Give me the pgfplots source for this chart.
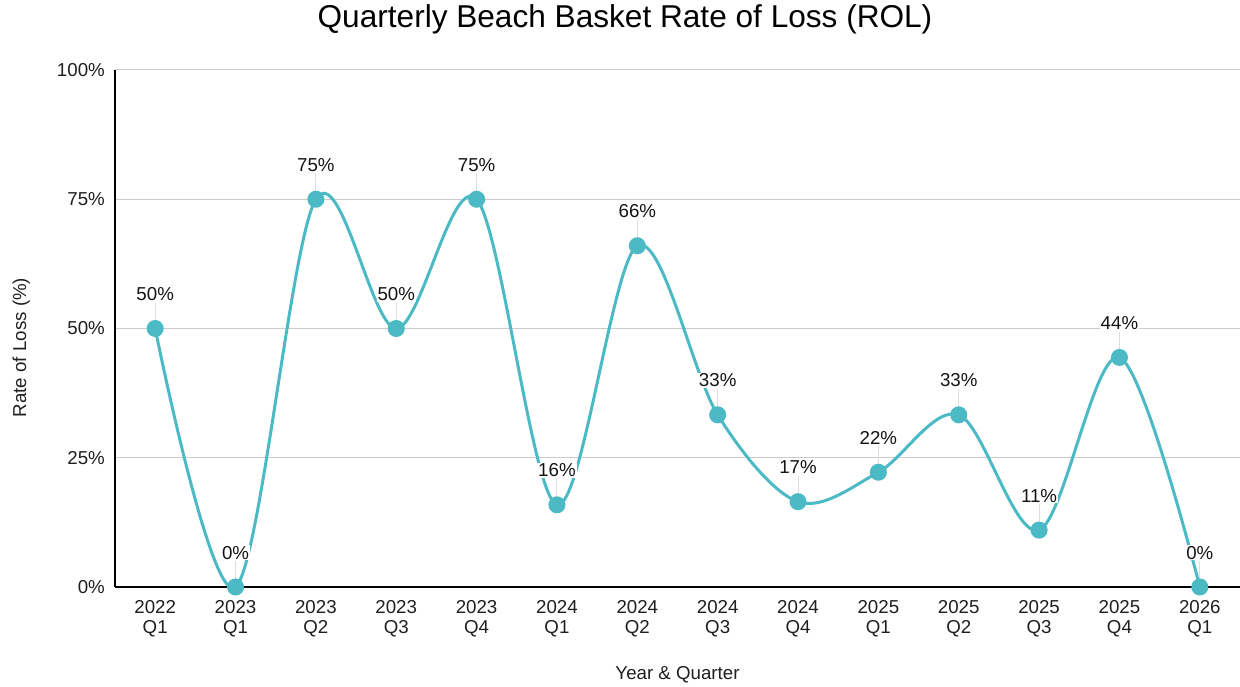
\documentclass[border=0pt]{standalone}
\usepackage{fontspec}
\setmainfont{Liberation Sans}
\usepackage{pgfplots}
\usepackage{pgfplotstable}
\pgfplotsset{compat=1.18}
\definecolor{rolteal}{HTML}{4BBAC4}
\definecolor{gridgray}{HTML}{CCCCCC}
\definecolor{leadgray}{HTML}{DDDDDD}
\pgfplotstableread{
x y lab
0 50 50
1 0 0
2 75 75
3 50 50
4 75 75
5 15.9 16
6 66 66
7 33.3 33
8 16.5 17
9 22.2 22
10 33.3 33
11 11.0 11
12 44.4 44
13 0 0
}\roldata
\begin{document}
\begin{tikzpicture}[x=1pt,y=1pt]
\useasboundingbox (0,0) rectangle (1240,686);
\begin{axis}[
  at={(115pt,99pt)}, anchor=south west,
  scale only axis, width=1125pt, height=517pt,
  xmin=-0.5, xmax=13.5, ymin=0, ymax=100,
  axis lines=left,
  axis line style={-, black, line width=1.4pt},
  ytick={0,25,50,75,100},
  yticklabel={\pgfmathprintnumber{\tick}\%},
  xtick={0,...,13},
  xticklabels={{2022\\Q1},{2023\\Q1},{2023\\Q2},{2023\\Q3},{2023\\Q4},{2024\\Q1},{2024\\Q2},{2024\\Q3},{2024\\Q4},{2025\\Q1},{2025\\Q2},{2025\\Q3},{2025\\Q4},{2026\\Q1}},
  major tick length=0pt,
  ymajorgrids,
  grid style={gridgray, line width=1pt},
  /pgf/number format/assume math mode=true,
  tick label style={font=\fontsize{18.7}{20}\selectfont, text=black!88},
  yticklabel style={anchor=east, inner sep=0pt, xshift=-10pt},
  xticklabel style={anchor=north, align=center, inner sep=0pt, yshift=-13pt},
]
\addplot[draw=none, mark=none, forget plot,
  error bars/.cd, y dir=plus, y fixed=5, error mark=none,
  error bar style={color=leadgray, line width=1pt}]
  table[x=x, y=y] {\roldata};
\addplot[rolteal, line width=3pt, smooth, tension=0.55,
  mark=*, mark size=7pt, mark options={fill=rolteal, draw=none},
  point meta=explicit symbolic,
  nodes near coords={\pgfplotspointmeta\%},
  every node near coord/.style={anchor=base, yshift=28pt, fill=white,
    inner sep=1pt, text=black!92, font=\fontsize{18.7}{20}\selectfont}]
  table[x=x, y=y, meta=lab] {\roldata};
\end{axis}
\node[anchor=base, font=\fontsize{31.6}{36}\selectfont, text=black] at (625,658) {Quarterly Beach Basket Rate of Loss (ROL)};
\node[anchor=base, font=\fontsize{18.7}{22}\selectfont, text=black!88] at (677.5,6.3) {Year \& Quarter};
\node[anchor=base, rotate=90, font=\fontsize{18.7}{22}\selectfont, text=black!88] at (26,338.5) {Rate of Loss (\%)};
\end{tikzpicture}
\end{document}
